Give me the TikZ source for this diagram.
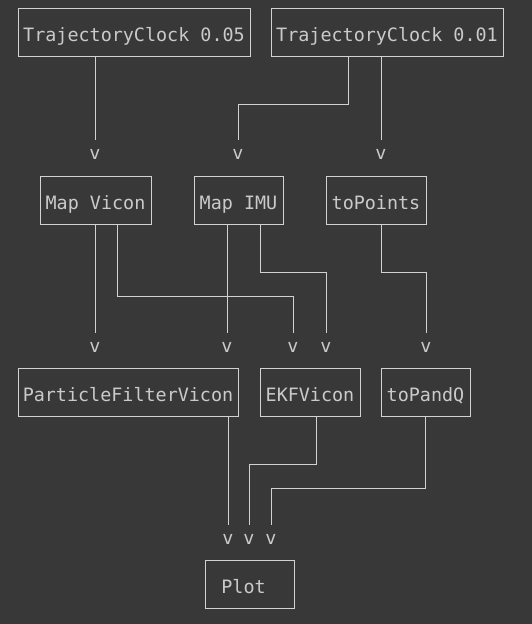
\documentclass[tikz,border=0pt]{standalone}
\usepackage{fontspec}
\setmonofont{DejaVu Sans Mono}
\usepackage{tikz}
\usetikzlibrary{positioning, calc}
\definecolor{bgGray}{HTML}{383838}
\definecolor{lineGray}{HTML}{D2D2D2}
\definecolor{textGray}{HTML}{CACACA}
\tikzset{
  box/.style  = {draw=lineGray, line width=1pt, minimum height=48pt,
                 inner sep=0pt, text=textGray, text height=20.6pt,
                 text depth=1pt, font=\ttfamily\fontsize{18.4}{22}\selectfont},
  tip/.style  = {inner sep=0pt, outer ysep=9pt, text height=10pt,
                 text depth=0pt, text=textGray,
                 font=\ttfamily\fontsize{18.4}{22}\selectfont},
  wire/.style = {draw=lineGray, line width=1pt}
}

\begin{document}
\begin{tikzpicture}[x=1pt, y=-1pt]
    \fill[bgGray] (0,0) rectangle (532,624);
    \useasboundingbox (0,0) rectangle (532,624);
    % sources
    \node[box, minimum width=232pt] (clockA) at (134,32) {TrajectoryClock 0.05};
    \node[box, minimum width=232pt] (clockB) at (387,32) {TrajectoryClock 0.01};
    \node[tip] (v1) at (95,154) {v};
    \node[tip] (v2) at (238,154) {v};
    \node[tip] (v3) at (381,154) {v};
    % mappers
    \node[box, minimum width=111pt] (mapVicon) at (95.5,200) {Map Vicon};
    \node[box, minimum width=89pt] (mapImu) at (238.5,200) {Map IMU};
    \node[box, minimum width=100pt] (toPoints) at (376,200) {toPoints};
    \node[tip] (v4) at (95,347) {v};
    \node[tip] (v5) at (227,347) {v};
    \node[tip] (v6) at (293,347) {v};
    \node[tip] (v7) at (326,347) {v};
    \node[tip] (v8) at (426,347) {v};
    % filters
    \node[box, minimum width=220pt] (pfVicon) at (128,392) {ParticleFilterVicon};
    \node[box, minimum width=100pt] (ekfVicon) at (310,392) {EKFVicon};
    \node[box, minimum width=89pt] (toPandQ) at (425.5,392) {toPandQ};
    \node[tip] (v9) at (228,539) {v};
    \node[tip] (v10) at (249,539) {v};
    \node[tip] (v11) at (271,539) {v};
    \node[box, minimum width=89pt] (plot) at (249.5,584) {Plot\kern12pt};

    \draw[wire] (clockA.south -| v1) -- (v1.north);
    \draw[wire] ([xshift=-39pt]clockB.south) -- ++(0,48) -| (v2.north);
    \draw[wire] (clockB.south -| v3) -- (v3.north);
    \draw[wire] (mapVicon.south -| v4) -- (v4.north);
    \draw[wire] ([xshift=21.5pt]mapVicon.south) -- ++(0,72) -| (v6.north);
    \draw[wire] (mapImu.south -| v5) -- (v5.north);
    \draw[wire] ([xshift=21.5pt]mapImu.south) -- ++(0,48) -| (v7.north);
    \draw[wire] ([xshift=5pt]toPoints.south) -- ++(0,48) -| (v8.north);
    \draw[wire] (pfVicon.south -| v9) -- (v9.north);
    \draw[wire] ([xshift=6pt]ekfVicon.south) -- ++(0,48) -| (v10.north);
    \draw[wire] (toPandQ.south) -- ++(0,72) -| (v11.north);
\end{tikzpicture}
\end{document}
